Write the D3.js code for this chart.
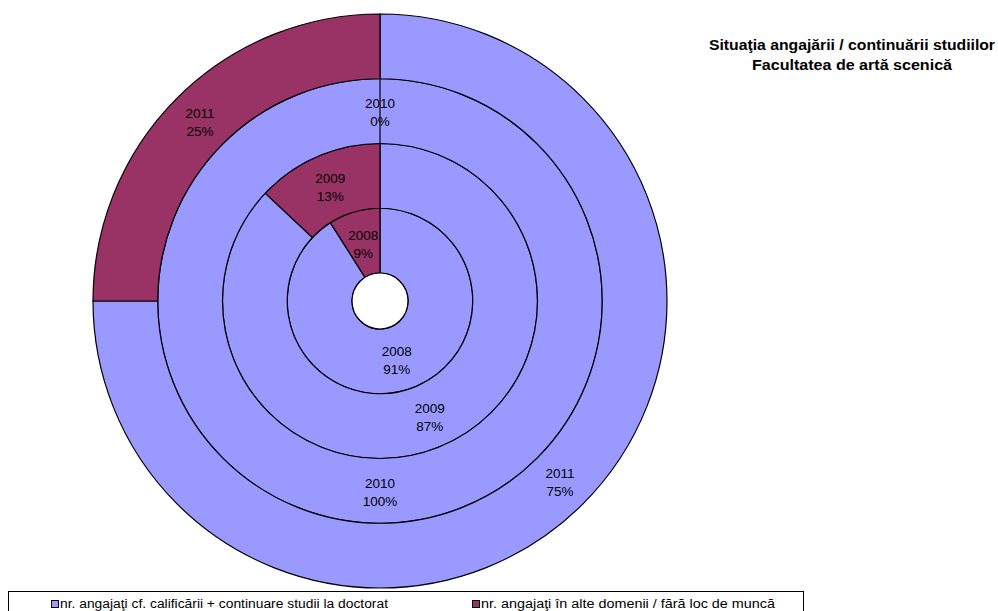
<!DOCTYPE html>
<html><head><meta charset="utf-8">
<script src="https://cdn.jsdelivr.net/npm/d3@7"></script>
<style>body{margin:0;background:#fff}svg{display:block;font-family:"Liberation Sans",Arial,sans-serif}</style>
</head><body>
<svg id="c" width="998" height="611"></svg>
<script>
const years = ["2008", "2009", "2010", "2011"];
const seriesNames = ["nr. angajaţi cf. calificării + continuare studii la doctorat", "nr. angajaţi în alte domenii / fără loc de muncă"];
const employed = [91, 87, 100, 75];
const other = [9, 13, 0, 25];
const titleLines = ["Situaţia angajării / continuării studiilor", "Facultatea de artă scenică"];
const colors = ["#9999FF", "#993366"];

const svg = d3.select("#c");
const cx = 380, cy = 301, hole = 28, outer = 287;
const ringW = (outer - hole) / years.length;
const g = svg.append("g").attr("transform", `translate(${cx},${cy})`);
const pie = d3.pie().sort(null).value(d => d.v);

years.forEach((y, i) => {
  const data = [{v: employed[i], s: 0}, {v: other[i], s: 1}];
  const arcs = pie(data);
  const r0 = hole + i * ringW, r1 = hole + (i + 1) * ringW;
  const arc = d3.arc().innerRadius(r0).outerRadius(r1);
  g.selectAll(null).data(arcs).enter().append("path")
    .attr("d", arc)
    .attr("fill", d => colors[d.data.s])
    .attr("stroke", "#000").attr("stroke-width", 1.2);
  arcs.forEach(a => {
    const [x, yy] = arc.centroid(a);
    const t = g.append("text").attr("text-anchor", "middle").attr("font-size", 13.5).attr("fill", "#000");
    t.append("tspan").attr("x", x).attr("y", yy - 3).text(y);
    t.append("tspan").attr("x", x).attr("y", yy + 15).text(a.data.v + "%");
  });
});
g.append("circle").attr("r", hole).attr("fill", "#fff").attr("stroke", "#000").attr("stroke-width", 1.2);

const titleW = [286, 200];
titleLines.forEach((l, i) => svg.append("text").attr("text-anchor", "middle").attr("font-size", 14).attr("font-weight", "bold")
  .attr("x", 852).attr("y", 50 + i * 20)
  .attr("textLength", titleW[i]).attr("lengthAdjust", "spacingAndGlyphs").text(l));

const leg = svg.append("g");
leg.append("rect").attr("x", 8.5).attr("y", 591.5).attr("width", 795).attr("height", 30).attr("fill", "#fff").attr("stroke", "#000");
const legX = [51, 472];
const legW = [328, 294];
seriesNames.forEach((n, i) => {
  leg.append("rect").attr("x", legX[i] + 0.5).attr("y", 600.5).attr("width", 7).attr("height", 7).attr("fill", colors[i]).attr("stroke", "#000");
  leg.append("text").attr("x", legX[i] + 9).attr("y", 608).attr("font-size", 12.5)
    .attr("textLength", legW[i]).attr("lengthAdjust", "spacingAndGlyphs").text(n);
});
</script>
</body></html>
